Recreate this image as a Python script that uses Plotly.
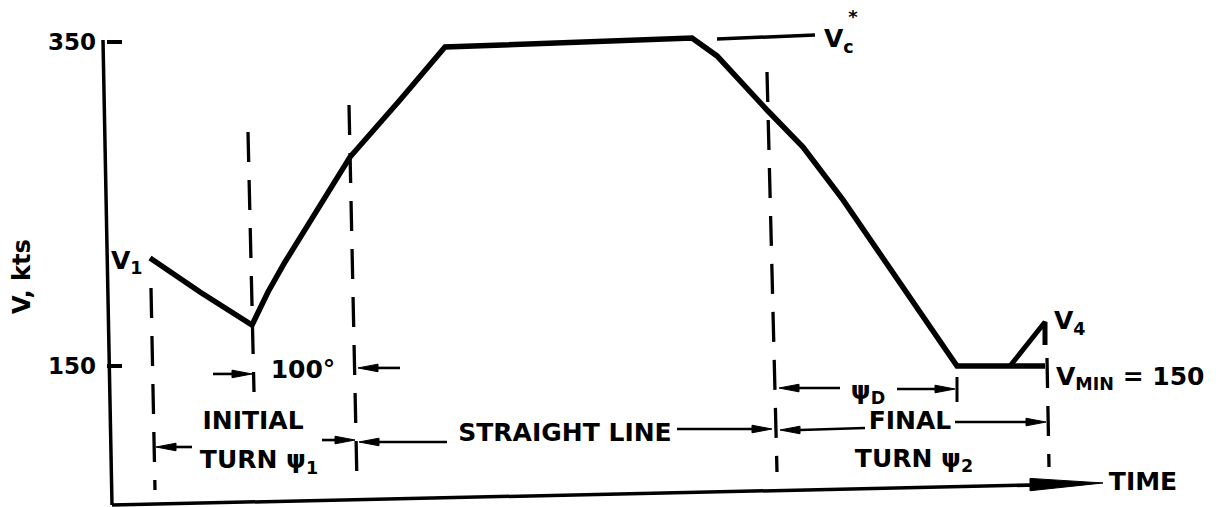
import plotly.graph_objects as go

# Speed schedule along the path (time in arbitrary units, speed in knots)
t_profile = [150, 200, 252, 268, 285, 310, 350, 400, 445, 692, 717, 767, 803,
             843, 900, 957, 1010, 1045]
v_profile = [216.7, 195.7, 175.3, 195.7, 214.2, 238.9, 279.0, 314.2, 346.9,
             352.5, 341.4, 308.0, 285.2, 252.5, 201.2, 150.0, 150.0, 150.0]

# Acceleration branch up to V4 at the end of the final turn
t_v4 = [1010, 1045, 1045]
v_v4 = [150.0, 177.2, 163.0]

# Cruise speed reference line V_c*
t_vc = [717, 815]
v_vc = [351.9, 354.3]

v_min = 150
y_ticks = [150, 350]

# Phase boundaries: (t_top, v_top, t_bottom, v_bottom)
boundaries = [
    (151, 198.1, 155, 73.5),    # start of initial turn (V1)
    (248, 294.4, 254, 134.0),   # slowest point of initial turn
    (349, 311.1, 357, 77.8),    # end of initial turn
    (767, 331.5, 777, 84.6),    # start of final turn
    (1047, 154.9, 1049, 87.7),  # end of final turn
]

# Span arrows: (t_head, v_head, t_tail, v_tail)
span_arrows = [
    (252, 145.1, 213, 145.1),   # 100 deg, left part
    (358, 148.8, 400, 148.8),   # 100 deg, right part
    (779, 136.4, 840, 136.4),   # psi_D, left part
    (955, 135.8, 897, 135.8),   # psi_D, right part
    (156, 100.0, 192, 100.0),   # initial turn, left
    (355, 104.3, 322, 104.3),   # initial turn, right
    (359, 103.1, 447, 103.1),   # straight line, left
    (772, 111.1, 677, 111.1),   # straight line, right
    (780, 110.5, 865, 111.7),   # final turn, left
    (1046, 115.4, 955, 115.4),  # final turn, right
]

# Centred labels: (text, t, v)
centre_labels = [
    ("TIME", 1143, 77.2),
    ("100°", 303, 146.3),
    ("ψ<sub>D</sub>", 868, 133.5),
    ("INITIAL", 253, 114.8),
    ("TURN ψ<sub>1</sub>", 259, 90.7),
    ("STRAIGHT LINE", 565, 107.4),
    ("FINAL", 910, 114.8),
    ("TURN ψ<sub>2</sub>", 914, 91.4),
]
# Speed names written to the right of their point: (text, t, v)
speed_labels = [
    ("V<sub>1</sub>", 111, 213.6),
    ("V<sub>c</sub>", 824, 350.5),
    ("V<sub>4</sub>", 1054, 176.5),
    ("V<sub>MIN</sub> = 150", 1056, 142.0),
]

FONT = "DejaVu Sans"
INK = "#000000"
KTS_PER_PX = 200 / 324   # vertical scale of the speed axis

fig = go.Figure()

fig.add_trace(go.Scatter(x=t_profile, y=v_profile, mode="lines",
                         line=dict(color=INK, width=5.5), hoverinfo="skip"))
fig.add_trace(go.Scatter(x=t_v4, y=v_v4, mode="lines",
                         line=dict(color=INK, width=5), hoverinfo="skip"))
fig.add_trace(go.Scatter(x=t_vc, y=v_vc, mode="lines",
                         line=dict(color=INK, width=3.5), hoverinfo="skip"))

label_font = dict(family=FONT, size=25, color=INK, weight="bold")
fig.add_trace(go.Scatter(
    x=[c[1] for c in centre_labels], y=[c[2] for c in centre_labels],
    text=[c[0] for c in centre_labels], mode="text", textposition="middle center",
    textfont=label_font, hoverinfo="skip", cliponaxis=False))
fig.add_trace(go.Scatter(
    x=[c[1] for c in speed_labels], y=[c[2] for c in speed_labels],
    text=[c[0] for c in speed_labels], mode="text", textposition="middle right",
    textfont=label_font, hoverinfo="skip", cliponaxis=False))
# superscript star of V_c*
fig.add_trace(go.Scatter(x=[853], y=[364.5], text=["*"], mode="text",
                         textposition="middle center",
                         textfont=dict(family=FONT, size=18, color=INK, weight="bold"),
                         hoverinfo="skip", cliponaxis=False))

shapes = []
for x0, y0, x1, y1 in boundaries:
    shapes.append(dict(type="line", xref="x", yref="y", x0=x0, y0=y0, x1=x1, y1=y1,
                       line=dict(color=INK, width=3.3, dash="30px,18px")))

# Horizontal span arrows with slender filled heads
HEAD_LEN = 20
HEAD_HALF = 3.8 * KTS_PER_PX
for xh, yh, xt, yt in span_arrows:
    d = 1 if xh > xt else -1
    xb = xh - d * HEAD_LEN
    shapes.append(dict(type="line", xref="x", yref="y", x0=xt, y0=yt, x1=xb, y1=yh,
                       line=dict(color=INK, width=2.6)))
    shapes.append(dict(type="path", xref="x", yref="y",
                       path=f"M {xb} {yh + HEAD_HALF} L {xh} {yh} L {xb} {yh - HEAD_HALF} Z",
                       fillcolor=INK, line=dict(color=INK, width=1)))

# Speed axis line and time axis with its long arrowhead
shapes.append(dict(type="line", xref="x", yref="y", x0=103, y0=351.2, x1=112, y1=64.2,
                   line=dict(color=INK, width=3.5)))
shapes.append(dict(type="line", xref="x", yref="y", x0=112, y0=64.2, x1=1060, y1=76.9,
                   line=dict(color=INK, width=3.5)))
shapes.append(dict(type="path", xref="x", yref="y",
                   path="M 1030 80.6 L 1103 77.8 L 1030 73.0 Z",
                   fillcolor=INK, line=dict(color=INK, width=1)))
# end tick of the psi_D span
shapes.append(dict(type="line", xref="x", yref="y", x0=957, y0=143.2, x1=957, y1=127.8,
                   line=dict(color=INK, width=3)))

annotations = [
    dict(text="V, kts", x=22 / 1216, y=1 - 277 / 507, xref="paper", yref="paper",
         showarrow=False, xanchor="center", yanchor="middle", textangle=-90,
         font=dict(family=FONT, size=24, color=INK, weight="bold")),
]

fig.update_layout(
    width=1216, height=507,
    margin=dict(l=0, r=0, t=0, b=0),
    paper_bgcolor="white", plot_bgcolor="white",
    font=dict(family=FONT, size=25, color=INK),
    showlegend=False,
    shapes=shapes,
    annotations=annotations,
    xaxis=dict(range=[0, 1216], domain=[0, 1], visible=False, fixedrange=True),
    yaxis=dict(range=[62.96, 375.93], domain=[0, 1], anchor="free", position=106 / 1216,
               showline=False, showgrid=False, zeroline=False,
               tickvals=y_ticks, ticktext=[str(v) for v in y_ticks],
               ticks="inside", ticklen=15, tickwidth=3.5, tickcolor=INK,
               ticklabelstandoff=10,
               tickfont=dict(family=FONT, size=23, color=INK, weight="bold"),
               fixedrange=True),
)

fig.write_html("out.html")
